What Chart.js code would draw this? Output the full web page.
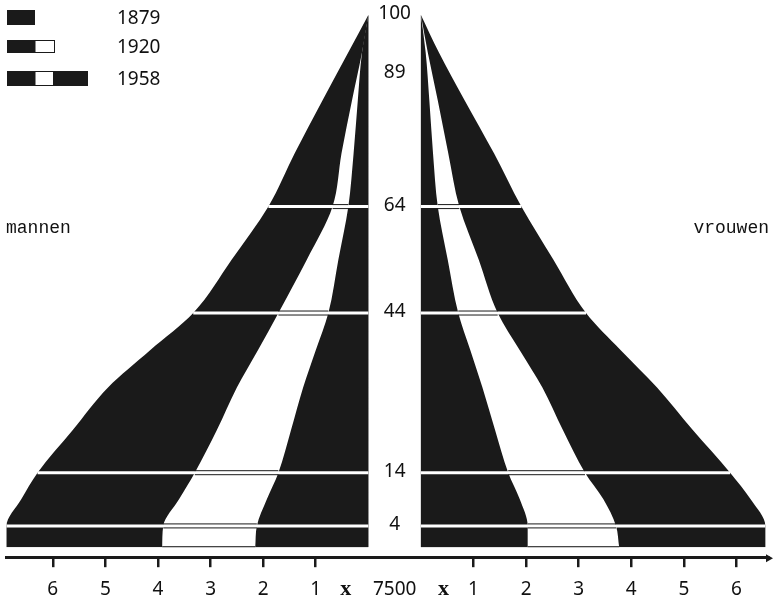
<!DOCTYPE html>
<html>
<head>
<meta charset="utf-8">
<script src="https://cdn.jsdelivr.net/npm/chart.js@4.4.1/dist/chart.umd.min.js"></script>
<style>
  html, body { margin: 0; padding: 0; background: #fff; }
  #wrap { width: 775px; height: 606px; position: relative; }
</style>
</head>
<body>
<div id="wrap"><canvas id="pyramid"></canvas></div>
<script>
// Leeftijdsopbouw: breedtes in eenheden van 7500 personen per leeftijdsjaar
const ages = [0, 4, 9, 14, 22, 30, 37, 44, 54, 64, 74, 84, 93, 100];

const men1879 = [2.15, 2.12, 1.93, 1.71, 1.47, 1.24, 1.00, 0.76, 0.57, 0.38, 0.28, 0.20, 0.12, 0];
const men1920 = [3.92, 3.90, 3.60, 3.30, 2.88, 2.50, 2.10, 1.71, 1.17, 0.68, 0.51, 0.31, 0.12, 0];
const men1958 = [6.88, 6.88, 6.60, 6.29, 5.62, 4.95, 4.15, 3.33, 2.60, 1.90, 1.40, 0.87, 0.38, 0];

const women1879 = [2.03, 2.03, 1.88, 1.66, 1.41, 1.17, 0.94, 0.71, 0.51, 0.32, 0.23, 0.16, 0.09, 0];
const women1920 = [3.77, 3.71, 3.47, 3.12, 2.70, 2.31, 1.88, 1.46, 1.10, 0.73, 0.52, 0.32, 0.13, 0];
const women1958 = [6.55, 6.55, 6.27, 5.88, 5.17, 4.49, 3.80, 3.14, 2.52, 1.91, 1.39, 0.83, 0.34, 0];

const ageLabels = [100, 89, 64, 44, 14, 4];
const separatorAges = [4, 14, 44, 64];
const unitTicks = [1, 2, 3, 4, 5, 6];
const unitLabel = '7500';

const HALF_GAP = 0.5;   // halve eenheid lege ruimte aan weerszijden van het midden
const X_MARK = 0.93;    // plaats van de 'x' naast 7500
const DARK = '#1a1a1a';
const FONT = '"Noto Sans", "DejaVu Sans", sans-serif';

Chart.defaults.font.family = FONT;
Chart.defaults.color = '#111';

const sides = [
  { sign: -1, v1879: men1879, v1920: men1920, v1958: men1958 },
  { sign: 1, v1879: women1879, v1920: women1920, v1958: women1958 }
];

function series(values, sign) {
  return ages.map((a, i) => ({ x: sign * (HALF_GAP + values[i]), y: a }));
}

function area(label, values, sign, color) {
  return {
    label,
    data: series(values, sign),
    fill: { value: sign * HALF_GAP },
    backgroundColor: color,
    borderColor: color,
    borderWidth: 0,
    pointRadius: 0,
    cubicInterpolationMode: 'monotone'
  };
}

// index 0 wordt als laatste (bovenop) getekend
const datasets = [
  area('1879 mannen', men1879, -1, DARK),
  area('1879 vrouwen', women1879, 1, DARK),
  area('1920 mannen', men1920, -1, '#ffffff'),
  area('1920 vrouwen', women1920, 1, '#ffffff'),
  area('1958 mannen', men1958, -1, DARK),
  area('1958 vrouwen', women1958, 1, DARK)
];

const tickText = new Map();
unitTicks.forEach(n => {
  tickText.set(-(n + HALF_GAP), String(n));
  tickText.set(n + HALF_GAP, String(n));
});
tickText.set(-X_MARK, 'x');
tickText.set(0, unitLabel);
tickText.set(X_MARK, 'x');

const isUnitTick = v => Math.abs(v) > 1;

const legendRows = [
  { label: '1879', y: 10, h: 15, parts: [[7, 35, DARK]] },
  { label: '1920', y: 40, h: 13, parts: [[7, 35, DARK], [35, 55, '#fff']] },
  { label: '1958', y: 71, h: 15, parts: [[7, 35, DARK], [35, 54, '#fff'], [54, 88, DARK]] }
];

const decor = {
  id: 'decor',
  afterDatasetsDraw(chart) {
    const { ctx, scales: { x, y } } = chart;
    ctx.save();
    sides.forEach(side => {
      const px = v => x.getPixelForValue(side.sign * (HALF_GAP + v));
      separatorAges.forEach(age => {
        const i = ages.indexOf(age);
        const py = y.getPixelForValue(age);
        ctx.strokeStyle = '#fff';
        ctx.lineWidth = 3;
        ctx.beginPath();
        ctx.moveTo(px(0), py);
        ctx.lineTo(px(side.v1958[i]), py);
        ctx.stroke();
        ctx.strokeStyle = DARK;
        ctx.lineWidth = 1;
        [-2, 2].forEach(d => {
          ctx.beginPath();
          ctx.moveTo(px(side.v1879[i]), py + d);
          ctx.lineTo(px(side.v1920[i]), py + d);
          ctx.stroke();
        });
      });
      // onderrand van de witte band
      const py0 = y.getPixelForValue(ages[0]) - 0.5;
      ctx.strokeStyle = DARK;
      ctx.lineWidth = 1;
      ctx.beginPath();
      ctx.moveTo(px(side.v1879[0]), py0);
      ctx.lineTo(px(side.v1920[0]), py0);
      ctx.stroke();
    });
    ctx.restore();
  },
  afterDraw(chart) {
    const { ctx, scales: { x, y } } = chart;
    ctx.save();
    ctx.fillStyle = '#111';
    ctx.textAlign = 'center';
    ctx.textBaseline = 'middle';
    ctx.font = '19px ' + FONT;
    ageLabels.forEach(a => ctx.fillText(String(a), x.getPixelForValue(0), y.getPixelForValue(a) - 1));

    ctx.font = '18px "Liberation Mono", "DejaVu Sans Mono", monospace';
    ctx.textAlign = 'left';
    ctx.fillText('mannen', 6, 228);
    ctx.textAlign = 'right';
    ctx.fillText('vrouwen', 769, 228);

    // pijlpunt aan het eind van de as
    const ay = chart.chartArea.bottom + 1;
    const ax = chart.chartArea.right;
    ctx.fillStyle = DARK;
    ctx.beginPath();
    ctx.moveTo(ax + 5, ay);
    ctx.lineTo(ax - 2, ay - 4);
    ctx.lineTo(ax - 2, ay + 4);
    ctx.closePath();
    ctx.fill();

    ctx.font = '19px ' + FONT;
    ctx.textAlign = 'left';
    legendRows.forEach(row => {
      row.parts.forEach(([a, b, c]) => {
        ctx.fillStyle = c;
        ctx.fillRect(a, row.y, b - a, row.h);
        if (c === '#fff') {
          ctx.strokeStyle = DARK;
          ctx.lineWidth = 1;
          ctx.strokeRect(a, row.y + 0.5, b - a - 0.5, row.h - 1);
        }
      });
      ctx.fillStyle = '#111';
      ctx.fillText(row.label, 117, row.y + row.h / 2 + 1);
    });
    ctx.restore();
  }
};

new Chart(document.getElementById('pyramid'), {
  type: 'line',
  data: { datasets },
  options: {
    indexAxis: 'y',
    responsive: true,
    maintainAspectRatio: false,
    animation: false,
    events: [],
    layout: { padding: { left: 6, right: 7, top: 10, bottom: -6 } },
    plugins: { legend: { display: false }, tooltip: { enabled: false } },
    scales: {
      x: {
        type: 'linear',
        min: -7.39,
        max: 7.10,
        afterBuildTicks: axis => {
          axis.ticks = [...tickText.keys()].sort((a, b) => a - b).map(v => ({ value: v }));
        },
        ticks: {
          autoSkip: false,
          maxRotation: 0,
          padding: 11,
          color: '#111',
          font: ctx => (ctx.tick && Math.abs(ctx.tick.value) === X_MARK)
            ? { family: '"Liberation Serif", serif', size: 22, weight: 'bold', lineHeight: 1 }
            : { size: 19 },
          callback: v => tickText.get(v) ?? ''
        },
        grid: {
          drawOnChartArea: false,
          drawTicks: true,
          tickLength: 10,
          lineWidth: ctx => (ctx.tick && isUnitTick(ctx.tick.value)) ? 2.5 : 0,
          color: ctx => (ctx.tick && isUnitTick(ctx.tick.value)) ? DARK : 'rgba(0,0,0,0)'
        },
        border: { display: true, color: DARK, width: 3 }
      },
      y: {
        type: 'linear',
        display: false,
        min: -1.88,
        max: 100.94
      }
    }
  },
  plugins: [decor]
});
</script>
</body>
</html>
